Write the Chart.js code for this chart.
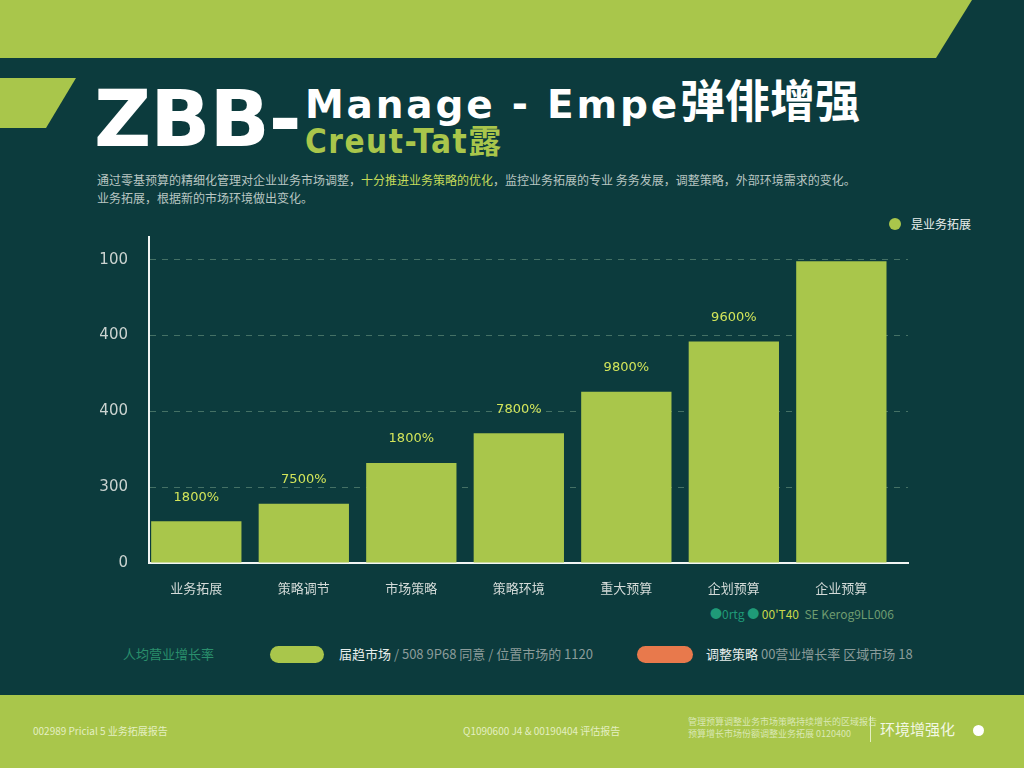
<!DOCTYPE html>
<html>
<head>
<meta charset="utf-8">
<script src="https://cdn.jsdelivr.net/npm/chart.js@4.4.0/dist/chart.umd.min.js"></script>
<style>
  html, body { margin: 0; padding: 0; }
  body { width: 1024px; height: 768px; background: #0c3b3d; position: relative; overflow: hidden;
         font-family: "Noto Sans CJK SC", "DejaVu Sans", sans-serif; }
  .band-top { position: absolute; left: 0; top: 0; width: 1024px; height: 58px; background: #a9c64b;
              clip-path: polygon(0 0, 972px 0, 936px 58px, 0 58px); }
  .tab-left { position: absolute; left: 0; top: 78px; width: 76px; height: 50px; background: #a9c64b;
              clip-path: polygon(0 0, 76px 0, 46px 50px, 0 50px); }
  .band-bottom { position: absolute; left: 0; top: 695px; width: 1024px; height: 73px; background: #a9c64b; }
  .zbb { position: absolute; left: 94px; top: 73px; color: #fff; font: bold 79px "DejaVu Sans", sans-serif; letter-spacing: -1px; }
  .t1 { position: absolute; left: 305px; top: 66px; color: #fff; font: bold 39px "DejaVu Sans", sans-serif; letter-spacing: 2.8px; white-space: nowrap; }
  .t1 .cjk { font-family: "Noto Sans CJK SC"; font-size: 45px; letter-spacing: 0; }
  .t2 { position: absolute; left: 305px; top: 115px; color: #a9c64b; font: bold 33px "DejaVu Sans Condensed", "DejaVu Sans", sans-serif; letter-spacing: 1.5px; white-space: nowrap; }
  .sub { position: absolute; left: 97px; top: 171px; color: #b9c6c2; font-size: 12px; line-height: 18px; white-space: nowrap; }
  .sub .hl { color: #c7dc5a; }
  .legend { position: absolute; left: 889px; top: 215px; color: #e8eeec; font-size: 12px; white-space: nowrap; }
  .legend i { display: inline-block; width: 12px; height: 12px; border-radius: 6px; background: #a9c64b; vertical-align: -1px; margin-right: 10px; }
  #wrap { position: absolute; left: 0; top: 205px; width: 1024px; height: 398px; }
  .note { position: absolute; left: 710px; top: 605px; font-size: 12px; white-space: nowrap; }
  .row { position: absolute; top: 644px; font-size: 13px; white-space: nowrap; }
  .pill { position: absolute; top: 646px; height: 17px; border-radius: 9px; }
  .foot { position: absolute; color: #e4efc2; font-size: 10px; white-space: nowrap; }
</style>
</head>
<body>
<div class="band-top"></div>
<div class="tab-left"></div>
<div class="band-bottom"></div>

<div class="zbb">ZBB-</div>
<div class="t1">Manage - Empe<span class="cjk">弹俳增强</span></div>
<div class="t2">Creut-Tat<span style="font-family:'Noto Sans CJK SC'">露</span></div>
<div class="sub">
  通过零基预算的精细化管理对企业业务市场调整，<span class="hl">十分推进业务策略的优化</span>，监控业务拓展的专业 务务发展，调整策略，外部环境需求的变化。<br>
  业务拓展，根据新的市场环境做出变化。
</div>
<div class="legend"><i></i>是业务拓展</div>

<div id="wrap"><canvas id="chart"></canvas></div>

<div class="note"><span style="color:#1f9a78">●0rtg ● </span><span style="color:#c9d84a">00'T40</span><span style="color:#6f9c70">&nbsp; SE Kerog9LL006</span></div>

<div class="row" style="left:123px;color:#2a8f6c">人均营业增长率</div>
<div class="pill" style="left:270px;width:54px;background:#a9c64b"></div>
<div class="row" style="left:339px;color:#e8eeec">届趋市场<span style="color:#8b9c9a"> / 508 9P68 同意 / 位置市场的 1120</span></div>
<div class="pill" style="left:637px;width:56px;background:#e8794c"></div>
<div class="row" style="left:706px;color:#e8eeec">调整策略<span style="color:#8b9c9a"> 00营业增长率 区域市场 18</span></div>

<div class="foot" style="left:33px;top:723px">002989 Pricial 5 业务拓展报告</div>
<div class="foot" style="left:463px;top:723px">Q1090600 J4 &amp; 00190404 评估报告</div>
<div class="foot" style="left:688px;top:716px;line-height:12px;font-size:9px;color:#d9e8b4">管理预算调整业务市场策略持续增长的区域报告<br>预算增长市场份额调整业务拓展 0120400</div>
<div style="position:absolute;left:870px;top:716px;width:1px;height:26px;background:#e4efc2"></div>
<div class="foot" style="left:880px;top:718px;font-size:15px;color:#f2f7e4">环境增强化</div>
<div style="position:absolute;left:973px;top:725px;width:11px;height:11px;border-radius:6px;background:#fff"></div>

<script>
// categories and values
var categories = ["业务拓展", "策略调节", "市场策略", "策略环境", "重大预算", "企划预算", "企业预算"];
var values = [55, 78, 132, 171, 226, 292, 398];
var valueLabels = ["1800%", "7500%", "1800%", "7800%", "9800%", "9600%", ""];
var yTickValues = [0, 100, 200, 300, 400];
var yTickLabels = ["0", "300", "400", "400", "100"];

var barGreen = '#a9c64b';

var valueLabelPlugin = {
  id: 'valueLabels',
  afterDatasetsDraw: function (chart) {
    var ctx = chart.ctx;
    var meta = chart.getDatasetMeta(0);
    ctx.save();
    ctx.font = '13px "DejaVu Sans", sans-serif';
    ctx.fillStyle = '#d3e55a';
    ctx.textAlign = 'center';
    ctx.textBaseline = 'middle';
    meta.data.forEach(function (bar, i) {
      if (valueLabels[i]) ctx.fillText(valueLabels[i], bar.x, bar.y - 24);
    });
    ctx.restore();
  }
};

var ctx1 = document.getElementById("chart");
var chart1 = new Chart(ctx1, {
  type: 'bar',
  data: {
    datasets: [{
      label: '是业务拓展',
      backgroundColor: barGreen,
      borderWidth: 0,
      barPercentage: 0.84,
      categoryPercentage: 1,
      data: values.map(function (v, i) { return { x: i, y: v }; })
    }]
  },
  options: {
    responsive: true,
    maintainAspectRatio: false,
    animation: false,
    layout: { padding: { top: 32, right: 116, left: 0, bottom: 0 } },
    plugins: {
      legend: { display: false },
      tooltip: { enabled: false }
    },
    scales: {
      x: {
        type: 'linear',
        offset: false,
        min: -0.44,
        max: 6.62,
        afterBuildTicks: function (scale) {
          scale.ticks = categories.map(function (c, i) { return { value: i }; });
        },
        afterFit: function (scale) { scale.height = 40; },
        grid: { display: false, drawTicks: false, offset: false },
        border: { display: true, color: '#f2f5f3', width: 2 },
        ticks: {
          padding: 17,
          color: '#d3dad8',
          font: { size: 13, family: '"Noto Sans CJK SC"' },
          maxRotation: 0,
          autoSkip: false,
          callback: function (v) { return categories[v]; }
        }
      },
      y: {
        min: 0,
        max: 430,
        afterBuildTicks: function (scale) {
          scale.ticks = yTickValues.map(function (v) { return { value: v }; });
        },
        afterFit: function (scale) { scale.width = 149; },
        grid: { color: 'rgba(140,180,150,0.45)', lineWidth: 1, drawTicks: false },
        border: { display: true, color: '#f2f5f3', width: 2, dash: [6, 6] },
        ticks: {
          padding: 21,
          color: '#cbd3d0',
          font: { size: 15, family: '"DejaVu Sans"' },
          callback: function (v, i) { return yTickLabels[i]; }
        }
      }
    }
  },
  plugins: [valueLabelPlugin]
});
</script>
</body>
</html>
